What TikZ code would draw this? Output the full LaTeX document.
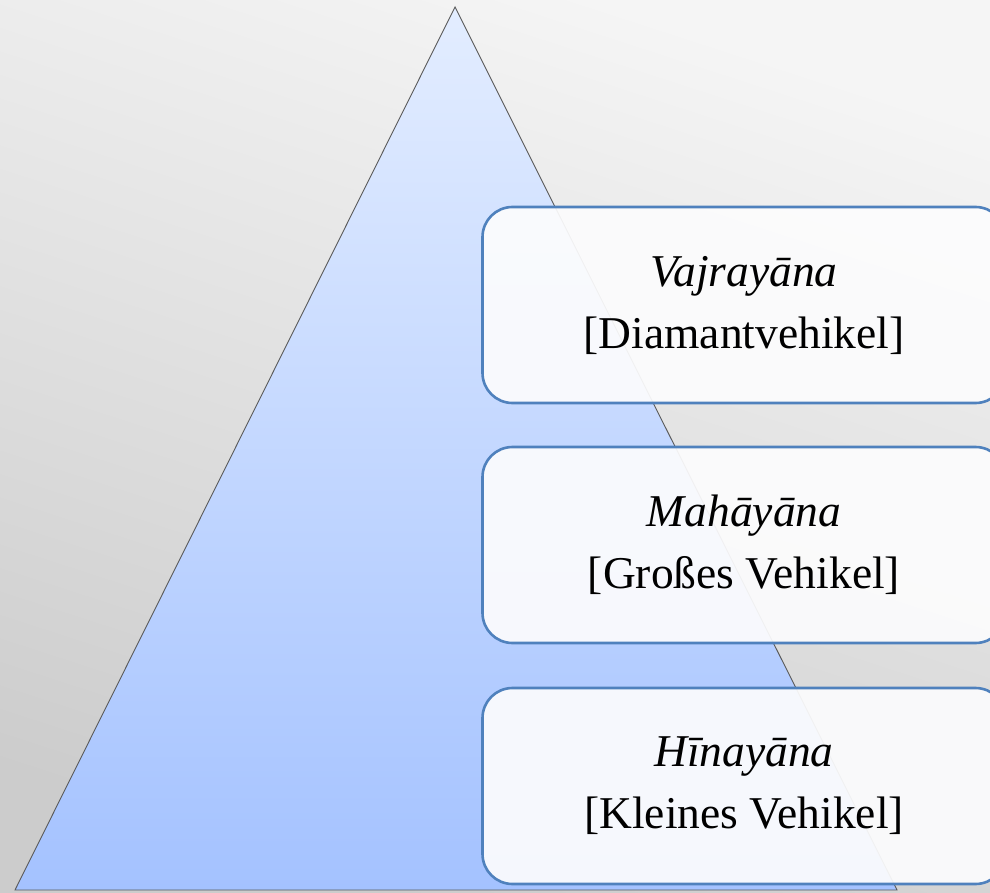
\documentclass[tikz,border=0pt]{standalone}
\usepackage{fontspec}
\setmainfont{Liberation Serif}
\definecolor{bgLight}{HTML}{F5F5F5}
\definecolor{bgDark}{HTML}{CCCCCC}
\definecolor{triTop}{HTML}{E3EDFF}
\definecolor{triBot}{HTML}{A4C2FF}
\definecolor{triEdge}{HTML}{5A5A5A}
\definecolor{boxEdge}{HTML}{4F81BD}
\definecolor{boxFill}{HTML}{FCFCFD}
\tikzset{
  vehicle/.style={draw=boxEdge, line width=2.6pt, rounded corners=30pt,
    fill=boxFill, fill opacity=0.93, text opacity=1,
    minimum width=523pt, minimum height=196pt, inner sep=0pt,
    align=center, font=\fontsize{45.5}{62}\selectfont, text=black}
}
\begin{document}
\begin{tikzpicture}[x=1pt,y=-1pt]
\useasboundingbox (0,0) rectangle (990,893);
\clip (0,0) rectangle (990,893);
\shade[top color=bgLight, bottom color=bgDark, shading angle=-18] (0,0) rectangle (990,893);
\coordinate (apex) at (455,7);
\coordinate (bl) at (15,890);
\coordinate (br) at (897,890);
\shade[top color=triTop, bottom color=triBot, draw=triEdge, line width=0.9pt, line join=miter]
  (apex) -- (bl) -- (br) -- cycle;
\node[vehicle] (vajra) at (744,305) {\textit{Vajrayāna}\\{}[Diamantvehikel]};
\node[vehicle] (maha) at (744,545) {\textit{Mahāyāna}\\{}[Großes Vehikel]};
\node[vehicle] (hina) at (744,786) {\textit{Hīnayāna}\\{}[Kleines Vehikel]};
\end{tikzpicture}
\end{document}
